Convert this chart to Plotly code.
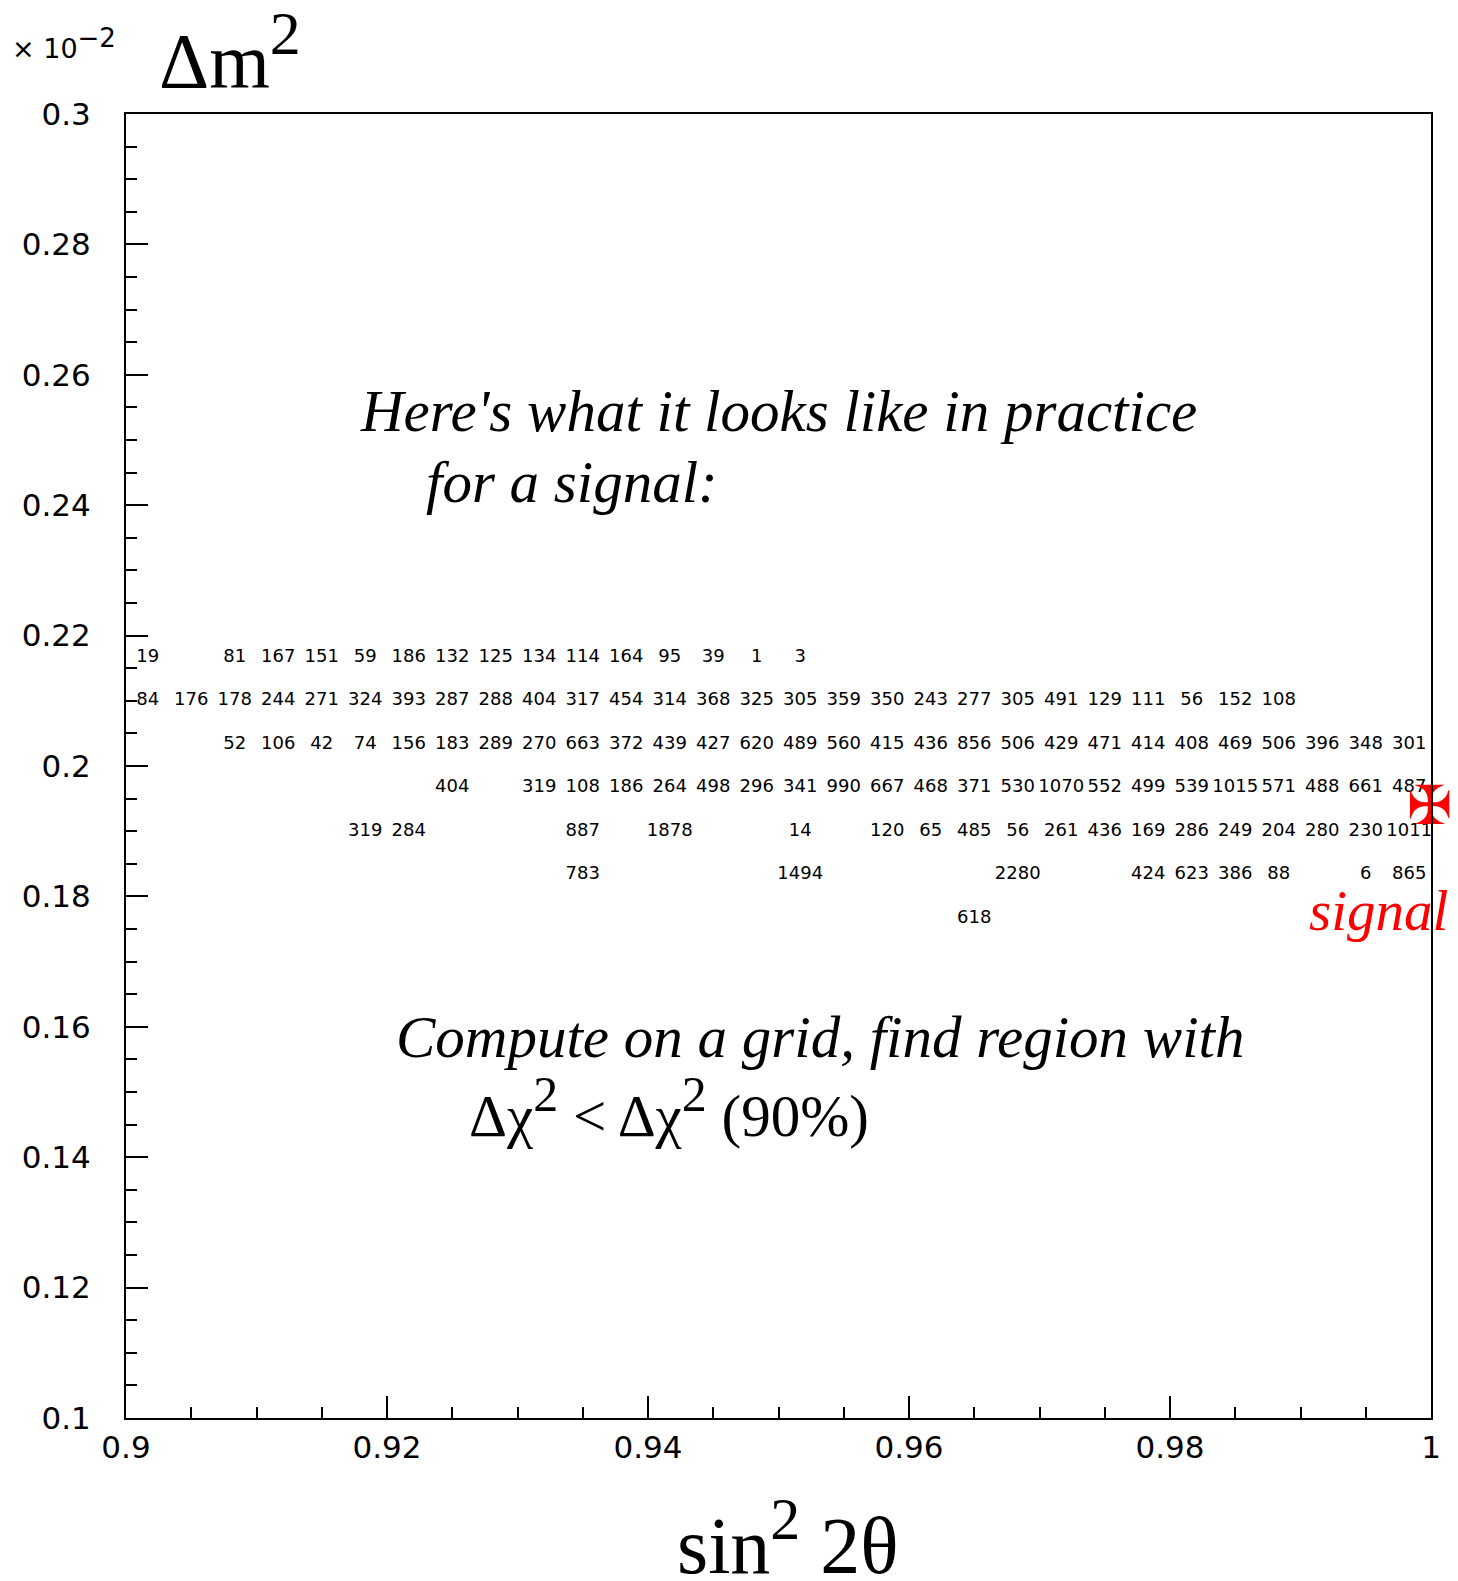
import plotly.graph_objects as go

# --- data -------------------------------------------------------------
# 30 x 30 grid over sin^2 2theta in [0.9, 1.0] and dm^2 in [0.1, 0.3] (x 10^-2)
x_lo, x_hi, n_x = 0.9, 1.0, 30
y_lo, y_hi, n_y = 0.1, 0.3, 30

# counts per cell: row index (y bin) -> list of 30 counts (None = empty)
N = None
row_17 = [19, N, 81, 167, 151, 59, 186, 132, 125, 134, 114, 164, 95, 39, 1, 3,
          N, N, N, N, N, N, N, N, N, N, N, N, N, N]
row_16 = [84, 176, 178, 244, 271, 324, 393, 287, 288, 404, 317, 454, 314, 368, 325,
          305, 359, 350, 243, 277, 305, 491, 129, 111, 56, 152, 108, N, N, N]
row_15 = [N, N, 52, 106, 42, 74, 156, 183, 289, 270, 663, 372, 439, 427, 620,
          489, 560, 415, 436, 856, 506, 429, 471, 414, 408, 469, 506, 396, 348, 301]
row_14 = [N, N, N, N, N, N, N, 404, N, 319, 108, 186, 264, 498, 296,
          341, 990, 667, 468, 371, 530, 1070, 552, 499, 539, 1015, 571, 488, 661, 487]
row_13 = [N, N, N, N, N, 319, 284, N, N, N, 887, N, 1878, N, N,
          14, N, 120, 65, 485, 56, 261, 436, 169, 286, 249, 204, 280, 230, 1011]
row_12 = [N, N, N, N, N, N, N, N, N, N, 783, N, N, N, N,
          1494, N, N, N, N, 2280, N, N, 424, 623, 386, 88, N, 6, 865]
row_11 = [N, N, N, N, N, N, N, N, N, N, N, N, N, N, N,
          N, N, N, N, 618, N, N, N, N, N, N, N, N, N, N]
rows = {17: row_17, 16: row_16, 15: row_15, 14: row_14, 13: row_13, 12: row_12, 11: row_11}

signal_x = [0.9999]
signal_y = [0.1932]

x_tick_vals = [0.9, 0.92, 0.94, 0.96, 0.98, 1.0]
y_tick_vals = [0.1, 0.12, 0.14, 0.16, 0.18, 0.2, 0.22, 0.24, 0.26, 0.28, 0.3]

# --- build cell texts ------------------------------------------------------
dx = (x_hi - x_lo) / n_x
dy = (y_hi - y_lo) / n_y
cx, cy, ct = [], [], []
for k, vals in rows.items():
    for i, v in enumerate(vals):
        if v is not None:
            cx.append(x_lo + (i + 0.5) * dx)
            cy.append(y_lo + (k + 0.5) * dy)
            ct.append(str(v))

fig = go.Figure()
fig.add_trace(go.Scatter(
    x=cx, y=cy, text=ct, mode="text",
    textposition="middle center",
    textfont=dict(family="DejaVu Sans", size=18, color="black"),
    hoverinfo="skip", showlegend=False, cliponaxis=False,
))
fig.add_trace(go.Scatter(
    x=signal_x, y=signal_y, text=["\u2720"], mode="text",
    textposition="middle center",
    textfont=dict(family="DejaVu Sans", size=54, color="red"),
    hoverinfo="skip", showlegend=False, cliponaxis=False,
))

serif = "Liberation Serif"
S = 59
big2 = "<sup><span style='font-size:50px'>2</span></sup>"
ann = [
    dict(x=0.9178, y=0.2545, text="<i>Here's what it looks like in practice</i>"),
    dict(x=0.9228, y=0.2436, text="<i>for a signal:</i>"),
    dict(x=0.9205, y=0.1585, text="<i>Compute on a grid, find region with</i>"),
    dict(x=0.9261, y=0.1477, text="\u0394\u03c7" + big2 + " < \u0394\u03c7" + big2 + " (90%)"),
]
for a in ann:
    fig.add_annotation(x=a["x"], y=a["y"], xref="x", yref="y", text=a["text"],
                       showarrow=False, xanchor="left", yanchor="middle",
                       font=dict(family=serif, size=S, color="black"))

fig.add_annotation(x=0.9905, y=0.1778, xref="x", yref="y", text="<i>signal</i>",
                   showarrow=False, xanchor="left", yanchor="middle",
                   font=dict(family=serif, size=57, color="red"))

# axis titles as annotations (paper coords)
W, H = 1458, 1581
L, R, T, B = 126, 27, 114, 163
pw, ph = W - L - R, H - T - B
def px(xp): return (xp - L) / pw
def py(yp): return (H - B - yp) / ph

fig.add_annotation(x=px(157), y=py(52), xref="paper", yref="paper",
                   text="\u0394m<sup><span style='font-size:62px'>2</span></sup>", showarrow=False,
                   xanchor="left", yanchor="middle",
                   font=dict(family=serif, size=78, color="black"))
fig.add_annotation(x=px(788), y=py(1538), xref="paper", yref="paper",
                   text="sin<sup><span style='font-size:60px'>2</span></sup> 2\u03b8", showarrow=False,
                   xanchor="center", yanchor="middle",
                   font=dict(family=serif, size=80, color="black"))
fig.add_annotation(x=px(10), y=py(44), xref="paper", yref="paper",
                   text="\u00d7 10<sup><span style='font-size:26px'>\u22122</span></sup>", showarrow=False,
                   xanchor="left", yanchor="middle",
                   font=dict(family="DejaVu Sans", size=27, color="black"))

axis_common = dict(
    showgrid=False, zeroline=False,
    showline=True, linecolor="black", linewidth=2, mirror=True,
    ticks="inside", ticklen=22, tickwidth=1.5, tickcolor="black",
    tickfont=dict(family="DejaVu Sans", size=31, color="black"),
    minor=dict(ticks="inside", ticklen=11, tickwidth=1.5, tickcolor="black", dtick=0.005),
)
fig.update_xaxes(range=[x_lo, x_hi], tickvals=x_tick_vals, ticklabelstandoff=1, **axis_common)
fig.update_yaxes(range=[y_lo, y_hi], tickvals=y_tick_vals, ticklabelstandoff=27, **axis_common)

fig.update_layout(
    width=W, height=H,
    margin=dict(l=L, r=R, t=T, b=B, pad=0),
    plot_bgcolor="white", paper_bgcolor="white",
    showlegend=False,
)

fig.write_html("out.html")
